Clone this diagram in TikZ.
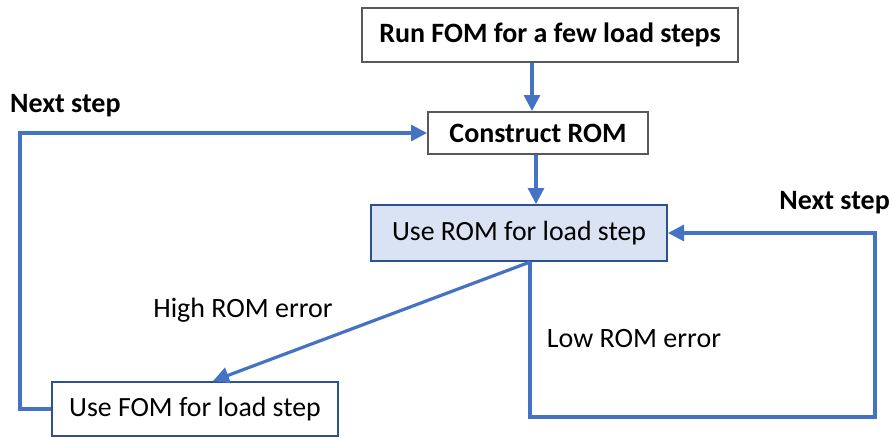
\documentclass[tikz,border=0pt]{standalone}
\usepackage{fontspec}
\setmainfont{Carlito}
\usetikzlibrary{arrows.meta}
\definecolor{arrblue}{HTML}{4472C4}
\definecolor{darkblue}{HTML}{2F528F}
\definecolor{lightblue}{HTML}{DAE3F3}
\definecolor{graybord}{HTML}{595959}
\begin{document}
\begin{tikzpicture}[x=1pt,y=-1pt,
  box/.style={draw, line width=2pt, inner sep=0pt, align=center, font=\fontsize{27.8}{32}\selectfont},
  graybox/.style={box, draw=graybord, fill=white, font=\fontsize{28}{32}\selectfont\bfseries},
  bluebox/.style={box, draw=darkblue},
  conn/.style={draw=arrblue, line width=3.2pt},
  arr/.style={conn, -{Triangle[length=16pt,width=16pt]}},
  lbl/.style={font=\fontsize{28}{32}\selectfont, inner sep=0pt},
  blbl/.style={font=\fontsize{28}{32}\selectfont\bfseries, inner sep=0pt}]
\useasboundingbox (0,0) rectangle (893,437);
\node[graybox, minimum width=376pt, minimum height=54pt] (run) at (550,35) {Run FOM for a few load steps};
\node[graybox, minimum width=220pt, minimum height=42pt] (construct) at (538,133) {Construct ROM};
\node[bluebox, fill=lightblue, minimum width=296pt, minimum height=56pt] (userom) at (519,233) {Use ROM for load step};
\node[bluebox, fill=white, minimum width=286pt, minimum height=54pt] (usefom) at (195,409) {Use FOM for load step};

\node[blbl, anchor=west] (ns1) at (10,106) {Next step};
\node[blbl, anchor=east] (ns2) at (890,203) {Next step};
\node[lbl] (high) at (243,310) {High ROM error};
\node[lbl] (low) at (634,339) {Low ROM error};

\coordinate (b) at ([xshift=11pt]userom.south);
\coordinate (r1) at (530,417);
\coordinate (r2) at (875,417);
\coordinate (r3) at (875,233);
\coordinate (l1) at (20,409);
\coordinate (l2) at (20,133);

\draw[arr] ([xshift=-6pt]construct.north |- run.south) -- ([xshift=-6pt]construct.north);
\draw[arr] ([xshift=-2pt]construct.south) -- ([xshift=-2pt]construct.south |- userom.north);
\draw[arr] (b) -- ([xshift=18pt]usefom.north);
\draw[arr, line join=miter] (b) -- (b |- r1) -- (r2) -- (r3) -- (userom.east);
\draw[arr, line join=miter] (usefom.west) -- (l1) -- (l2) -- (construct.west);
\end{tikzpicture}
\end{document}
